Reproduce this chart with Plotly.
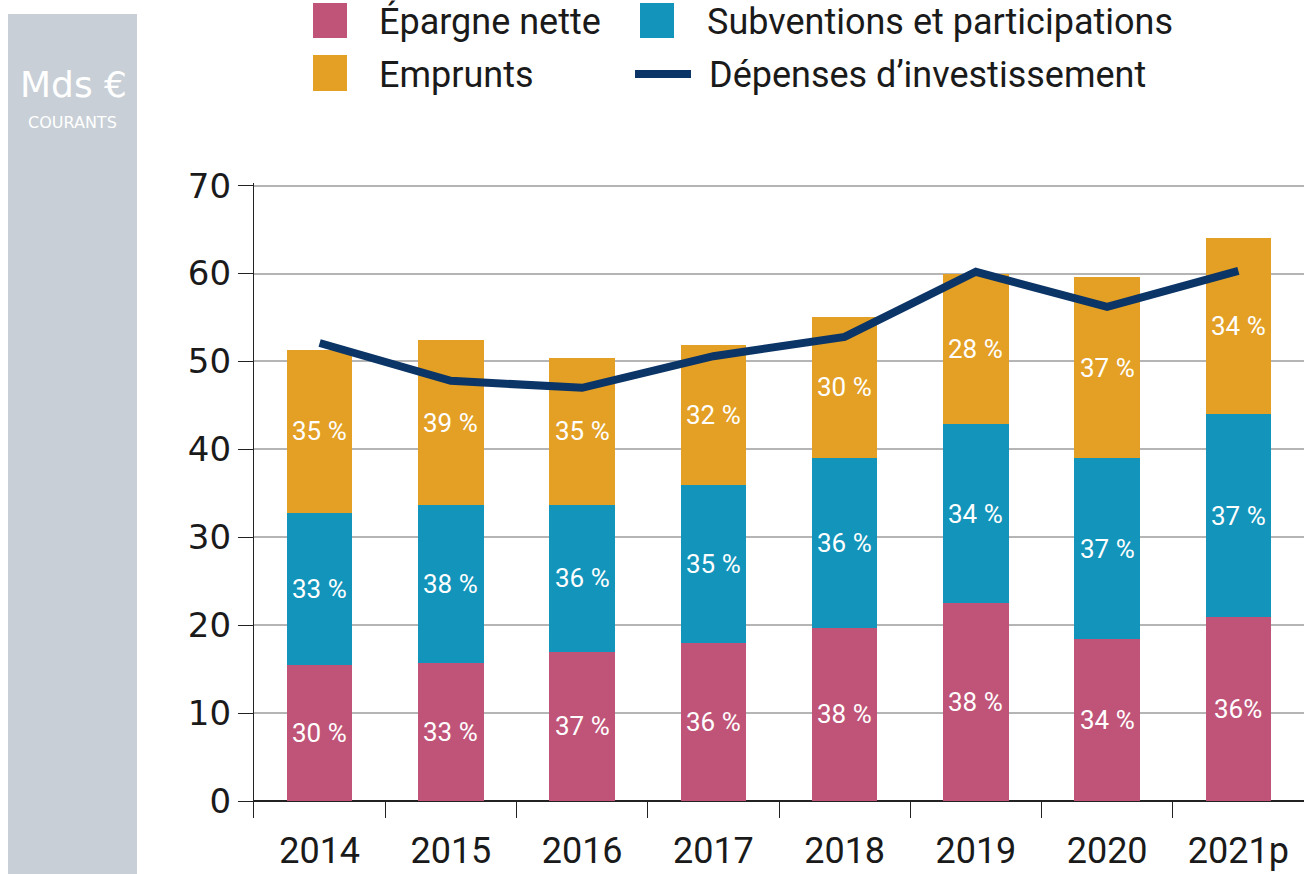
import plotly.graph_objects as go

years = ["2014", "2015", "2016", "2017", "2018", "2019", "2020", "2021p"]
epargne = [15.5, 15.7, 17.0, 18.0, 19.7, 22.5, 18.4, 20.9]
subventions = [17.3, 18.0, 16.7, 17.9, 19.3, 20.4, 20.6, 23.1]
emprunts = [18.5, 18.7, 16.7, 16.0, 16.1, 17.1, 20.6, 20.0]
depenses = [52.1, 47.8, 47.0, 50.6, 52.8, 60.2, 56.2, 60.3]

pct_epargne = ["30 %", "33 %", "37 %", "36 %", "38 %", "38 %", "34 %", "36%"]
pct_subventions = ["33 %", "38 %", "36 %", "35 %", "36 %", "34 %", "37 %", "37 %"]
pct_emprunts = ["35 %", "39 %", "35 %", "32 %", "30 %", "28 %", "37 %", "34 %"]

y_ticks = [0, 10, 20, 30, 40, 50, 60, 70]

C_EP = "#c05478"
C_SUB = "#1294bb"
C_EMP = "#e3a024"
C_LINE = "#0b3467"
PANEL = "#c8cfd6"

W, H = 1304, 874
ML, MR, MT, MB = 254, 0, 183, 56

NARROW = "Roboto, Liberation Sans Narrow, sans-serif"
GEO = "DejaVu Sans, Lato, sans-serif"

fig = go.Figure()
fig.add_trace(go.Bar(x=years, y=epargne, name="Épargne nette", marker=dict(color=C_EP, line=dict(width=0))))
fig.add_trace(go.Bar(x=years, y=subventions, name="Subventions et participations", marker=dict(color=C_SUB, line=dict(width=0))))
fig.add_trace(go.Bar(x=years, y=emprunts, name="Emprunts", marker=dict(color=C_EMP, line=dict(width=0))))
fig.add_trace(go.Scatter(x=years, y=depenses, mode="lines", name="Dépenses d'investissement",
                         line=dict(color=C_LINE, width=8)))

# percentage labels at segment midpoints (x given as category index)
for i, yr in enumerate(years):
    b1 = epargne[i]
    b2 = b1 + subventions[i]
    b3 = b2 + emprunts[i]
    for txt, ymid in ((pct_epargne[i], b1 / 2), (pct_subventions[i], (b1 + b2) / 2), (pct_emprunts[i], (b2 + b3) / 2)):
        fig.add_annotation(x=i, y=ymid, xref="x", yref="y", text=txt, showarrow=False,
                           font=dict(family=NARROW, size=26, color="white"))

plot_w = W - ML - MR
plot_h = H - MT - MB


def px_x(p):
    return (p - ML) / plot_w


def px_y(p):
    return (H - MB - p) / plot_h


shapes = []
# grey side panel
shapes.append(dict(type="rect", xref="paper", yref="paper", x0=px_x(8), x1=px_x(137), y0=px_y(874), y1=px_y(14),
                   fillcolor=PANEL, line=dict(width=0), layer="below"))
# legend symbols
shapes.append(dict(type="rect", xref="paper", yref="paper", x0=px_x(313), x1=px_x(347), y0=px_y(38), y1=px_y(3),
                   fillcolor=C_EP, line=dict(width=0)))
shapes.append(dict(type="rect", xref="paper", yref="paper", x0=px_x(640), x1=px_x(674), y0=px_y(38), y1=px_y(3),
                   fillcolor=C_SUB, line=dict(width=0)))
shapes.append(dict(type="rect", xref="paper", yref="paper", x0=px_x(313), x1=px_x(347), y0=px_y(91), y1=px_y(55),
                   fillcolor=C_EMP, line=dict(width=0)))
shapes.append(dict(type="line", xref="paper", yref="paper", x0=px_x(635), x1=px_x(691), y0=px_y(74), y1=px_y(74),
                   line=dict(color=C_LINE, width=8)))

legend_texts = [("Épargne nette", 377, 22), ("Subventions et participations", 705, 22),
                ("Emprunts", 377, 75), ("Dépenses d’investissement", 707, 75)]
for t, xp, yp in legend_texts:
    fig.add_annotation(x=px_x(xp), y=px_y(yp), xref="paper", yref="paper", text=t, showarrow=False,
                       xanchor="left", yanchor="middle", font=dict(family=NARROW, size=36, color="#1a1a1a"))

fig.add_annotation(x=px_x(73), y=px_y(84), xref="paper", yref="paper", text="Mds €", showarrow=False,
                   xanchor="center", yanchor="middle", font=dict(family=GEO, size=36, color="white"))
fig.add_annotation(x=px_x(72), y=px_y(123), xref="paper", yref="paper", text="COURANTS", showarrow=False,
                   xanchor="center", yanchor="middle", font=dict(family=GEO, size=16, color="white"))

fig.update_layout(
    width=W, height=H,
    margin=dict(l=ML, r=MR, t=MT, b=MB, pad=0),
    paper_bgcolor="white", plot_bgcolor="white",
    barmode="stack", bargap=0.5,
    showlegend=False,
    shapes=shapes,
    xaxis=dict(type="category", range=[-0.5, 7.5], showgrid=False, showline=False, zeroline=False,
               ticks="inside", tickson="boundaries", ticklen=17, tickwidth=1.3, tickcolor="#222",
               tickfont=dict(family=NARROW, size=36, color="#1a1a1a"), ticklabelstandoff=8),
    yaxis=dict(range=[-1.93, 70.3], tickvals=y_ticks, showgrid=True, gridcolor="#b5b5b5", gridwidth=1.5,
               showline=True, linecolor="#222", linewidth=1.3,
               zeroline=True, zerolinecolor="#222", zerolinewidth=1.5,
               ticks="outside", ticklen=15, tickwidth=1.3, tickcolor="#222",
               tickfont=dict(family=GEO, size=34, color="#1a1a1a")),
)

fig.write_html("out.html", config={"displayModeBar": False},
               post_script="document.body.style.margin='0';document.body.style.overflow='hidden';")
